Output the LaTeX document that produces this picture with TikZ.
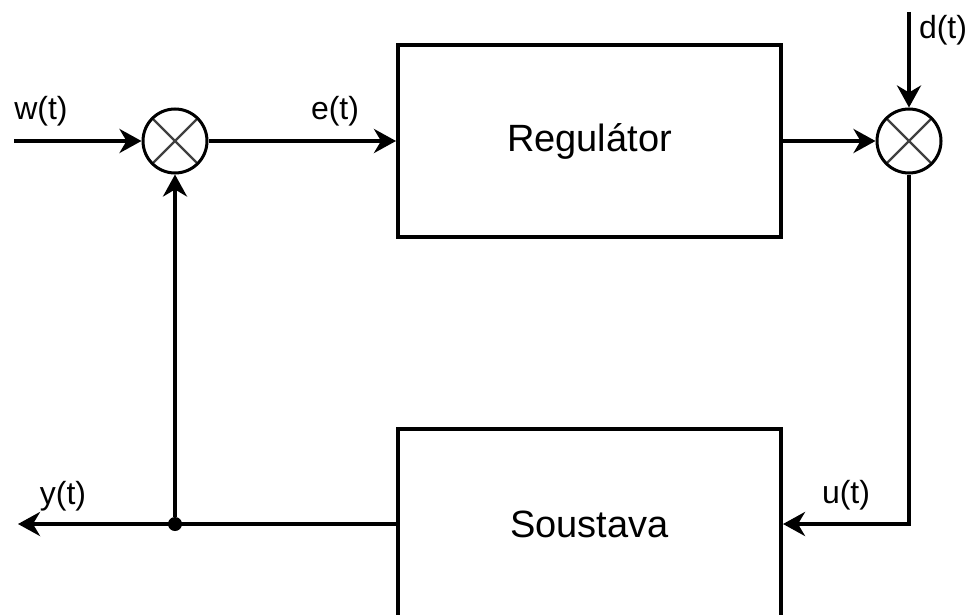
\documentclass[tikz,border=0pt]{standalone}
\usepackage{fontspec}
\setmainfont{Liberation Sans}
\usepackage{tikz}
\usetikzlibrary{arrows.meta,positioning,calc}

\begin{document}
\begin{tikzpicture}[x=1pt,y=-1pt,
  sig/.style={-{Stealth[length=22pt,width=24pt,inset=7pt]},line width=4pt},
  blk/.style={draw,rectangle,line width=4pt,minimum width=383pt,font=\fontsize{38}{42}\selectfont},
  sum/.style={draw,circle,line width=3pt,minimum size=64pt,inner sep=0pt,
    path picture={\draw[line width=2.2pt,black!75]
      (path picture bounding box.north west) -- (path picture bounding box.south east)
      (path picture bounding box.north east) -- (path picture bounding box.south west);}},
  lbl/.style={font=\fontsize{32}{36}\selectfont,inner sep=0pt},
]
  \useasboundingbox (0,0) rectangle (971,615);
  \clip (0,0) rectangle (971,615);

  % blocks and summing points
  \node[blk,minimum height=192pt] (reg) at (589.5,141) {Regulátor};
  \node[blk,minimum height=190pt] (sys) at (589.5,524) {Soustava};
  \node[sum] (s1) at (175,141) {};
  \node[sum] (s2) at (909,141) {};
  \node[circle,fill,inner sep=0pt,minimum size=14pt] (junc) at (175,524) {};

  % free ends
  \coordinate (win) at (14,141);
  \coordinate (din) at (909,12);
  \coordinate (yout) at (18,524);

  % signals
  \draw[sig] (win) -- (s1);
  \draw[sig] (s1) -- (reg);
  \draw[sig] (reg) -- (s2);
  \draw[sig] (din) -- (s2);
  \draw[sig] (s2.south) |- (sys.east);
  \draw[sig] (sys.west) -- (yout);
  \draw[sig] (junc) -- (s1);

  % labels
  \node[lbl] (lw) at (41,111) {w(t)};
  \node[lbl] (le) at (335,111) {e(t)};
  \node[lbl] (ld) at (943,30) {d(t)};
  \node[lbl] (lu) at (846,495) {u(t)};
  \node[lbl] (ly) at (63,496) {y(t)};
\end{tikzpicture}
\end{document}
